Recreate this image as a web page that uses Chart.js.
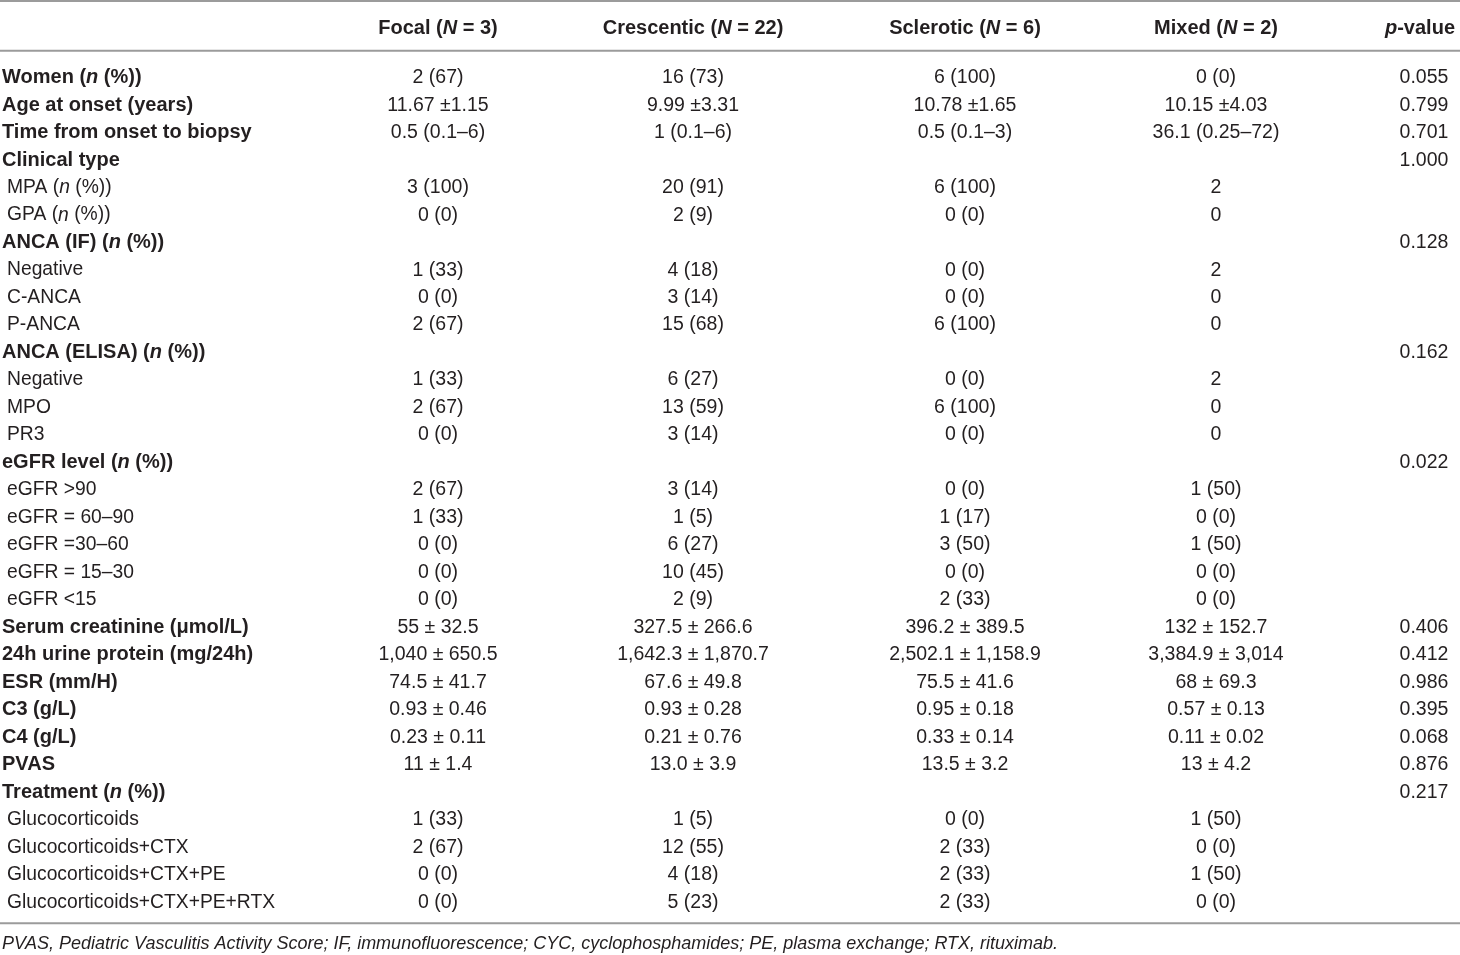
<!DOCTYPE html>
<html>
<head>
<meta charset="utf-8">
<script src="https://cdn.jsdelivr.net/npm/chart.js@4/dist/chart.umd.min.js"></script>
<style>
  html, body { margin: 0; padding: 0; background: #ffffff; }
  #wrap { width: 1460px; height: 955px; position: relative; }
</style>
</head>
<body>
<div id="wrap"><canvas id="c"></canvas></div>
<script>
// ---------- DATA ----------
const columnHeaders = ['Focal (*N* = 3)', 'Crescentic (*N* = 22)', 'Sclerotic (*N* = 6)', 'Mixed (*N* = 2)', '*p*-value'];

const rowLabels = [
  'Women (*n* (%))', 'Age at onset (years)', 'Time from onset to biopsy', 'Clinical type',
  'MPA (*n* (%))', 'GPA (*n* (%))', 'ANCA (IF) (*n* (%))', 'Negative', 'C-ANCA', 'P-ANCA',
  'ANCA (ELISA) (*n* (%))', 'Negative', 'MPO', 'PR3', 'eGFR level (*n* (%))',
  'eGFR >90', 'eGFR = 60–90', 'eGFR =30–60', 'eGFR = 15–30', 'eGFR <15',
  'Serum creatinine (μmol/L)', '24h urine protein (mg/24h)', 'ESR (mm/H)', 'C3 (g/L)', 'C4 (g/L)',
  'PVAS', 'Treatment (*n* (%))', 'Glucocorticoids', 'Glucocorticoids+CTX',
  'Glucocorticoids+CTX+PE', 'Glucocorticoids+CTX+PE+RTX'
];
// 0 = main variable (bold), 1 = sub-category
const rowLevel = [0,0,0,0, 1,1, 0,1,1,1, 0,1,1,1, 0,1,1,1,1,1, 0,0,0,0,0,0, 0,1,1,1,1];

const focal = ['2 (67)', '11.67 ±1.15', '0.5 (0.1–6)', '', '3 (100)', '0 (0)', '', '1 (33)', '0 (0)', '2 (67)',
  '', '1 (33)', '2 (67)', '0 (0)', '', '2 (67)', '1 (33)', '0 (0)', '0 (0)', '0 (0)',
  '55 ± 32.5', '1,040 ± 650.5', '74.5 ± 41.7', '0.93 ± 0.46', '0.23 ± 0.11', '11 ± 1.4',
  '', '1 (33)', '2 (67)', '0 (0)', '0 (0)'];
const crescentic = ['16 (73)', '9.99 ±3.31', '1 (0.1–6)', '', '20 (91)', '2 (9)', '', '4 (18)', '3 (14)', '15 (68)',
  '', '6 (27)', '13 (59)', '3 (14)', '', '3 (14)', '1 (5)', '6 (27)', '10 (45)', '2 (9)',
  '327.5 ± 266.6', '1,642.3 ± 1,870.7', '67.6 ± 49.8', '0.93 ± 0.28', '0.21 ± 0.76', '13.0 ± 3.9',
  '', '1 (5)', '12 (55)', '4 (18)', '5 (23)'];
const sclerotic = ['6 (100)', '10.78 ±1.65', '0.5 (0.1–3)', '', '6 (100)', '0 (0)', '', '0 (0)', '0 (0)', '6 (100)',
  '', '0 (0)', '6 (100)', '0 (0)', '', '0 (0)', '1 (17)', '3 (50)', '0 (0)', '2 (33)',
  '396.2 ± 389.5', '2,502.1 ± 1,158.9', '75.5 ± 41.6', '0.95 ± 0.18', '0.33 ± 0.14', '13.5 ± 3.2',
  '', '0 (0)', '2 (33)', '2 (33)', '2 (33)'];
const mixed = ['0 (0)', '10.15 ±4.03', '36.1 (0.25–72)', '', '2', '0', '', '2', '0', '0',
  '', '2', '0', '0', '', '1 (50)', '0 (0)', '1 (50)', '0 (0)', '0 (0)',
  '132 ± 152.7', '3,384.9 ± 3,014', '68 ± 69.3', '0.57 ± 0.13', '0.11 ± 0.02', '13 ± 4.2',
  '', '1 (50)', '0 (0)', '1 (50)', '0 (0)'];
const pValues = ['0.055', '0.799', '0.701', '1.000', '', '', '0.128', '', '', '', '0.162', '', '', '', '0.022',
  '', '', '', '', '', '0.406', '0.412', '0.986', '0.395', '0.068', '0.876', '0.217', '', '', '', ''];

const footnote = 'PVAS, Pediatric Vasculitis Activity Score; IF, immunofluorescence; CYC, cyclophosphamides; PE, plasma exchange; RTX, rituximab.';

// ---------- LAYOUT (not data) ----------
const columnCenters = [438, 693, 965, 1216, 1424];
const headerCenters = [438, 693, 965, 1216, 1420];
const FONT = '"Liberation Sans", Arial, Helvetica, sans-serif';
const TEXT = '#231f20';
const RULE = '#9b9b9b';
const TEXT_DY = 2;

const columns = [focal, crescentic, sclerotic, mixed, pValues];

function fontStr(italic, weight, size) {
  return (italic ? 'italic ' : '') + weight + ' ' + size + 'px ' + FONT;
}
function drawRich(ctx, str, x, y, align, weight, size) {
  const parts = str.split('*');
  let total = 0;
  parts.forEach((p, i) => { ctx.font = fontStr(i % 2 === 1, weight, size); total += ctx.measureText(p).width; });
  let cx = align === 'center' ? x - total / 2 : (align === 'right' ? x - total : x);
  ctx.textAlign = 'left';
  ctx.textBaseline = 'middle';
  parts.forEach((p, i) => {
    ctx.font = fontStr(i % 2 === 1, weight, size);
    ctx.fillText(p, cx, y + TEXT_DY);
    cx += ctx.measureText(p).width;
  });
}

const tablePlugin = {
  id: 'tableText',
  afterDatasetsDraw(chart) {
    const { ctx, scales: { x, y } } = chart;
    const first = y.getPixelForValue(0);
    const last = y.getPixelForValue(rowLabels.length - 1);
    ctx.save();
    ctx.fillStyle = TEXT;
    // rules
    ctx.strokeStyle = RULE;
    ctx.lineWidth = 2;
    [1, first - 25, last + 23].forEach(py => {
      ctx.beginPath(); ctx.moveTo(0, py); ctx.lineTo(1460, py); ctx.stroke();
    });
    // header
    columnHeaders.forEach((h, i) => {
      drawRich(ctx, h, x.getPixelForValue(headerCenters[i]), first - 49, 'center', 'bold', 20);
    });
    // row labels
    rowLabels.forEach((lab, i) => {
      const py = y.getPixelForValue(i);
      if (rowLevel[i] === 0) drawRich(ctx, lab, x.getPixelForValue(2), py, 'left', 'bold', 20);
      else drawRich(ctx, lab, x.getPixelForValue(7), py, 'left', 'normal', 19.3);
    });
    // cells
    chart.data.datasets.forEach((ds, di) => {
      const meta = chart.getDatasetMeta(di);
      meta.data.forEach((el, i) => {
        const txt = ds.cellText[i];
        if (txt) drawRich(ctx, txt, el.x, el.y, 'center', 'normal', 19.5);
      });
    });
    // footnote
    drawRich(ctx, '*' + footnote + '*', x.getPixelForValue(2), last + 42, 'left', 'normal', 18);
    ctx.restore();
  }
};

const datasets = columns.map((col, ci) => ({
  label: columnHeaders[ci].replace(/\*/g, ''),
  cellText: col,
  data: col.map((v, ri) => ({ x: columnCenters[ci], y: ri })),
  pointRadius: 0,
  pointHoverRadius: 0,
  showLine: false
}));

new Chart(document.getElementById('c'), {
  type: 'scatter',
  data: { datasets },
  options: {
    responsive: true,
    maintainAspectRatio: false,
    animation: false,
    events: [],
    layout: { padding: { top: 62, bottom: 41, left: 0, right: 0 } },
    plugins: { legend: { display: false }, tooltip: { enabled: false } },
    scales: {
      x: { type: 'linear', min: 0, max: 1460, display: false },
      y: { type: 'category', labels: rowLabels.map(s => s.replace(/\*/g, '')), offset: true, display: false }
    }
  },
  plugins: [tablePlugin]
});
</script>
</body>
</html>
